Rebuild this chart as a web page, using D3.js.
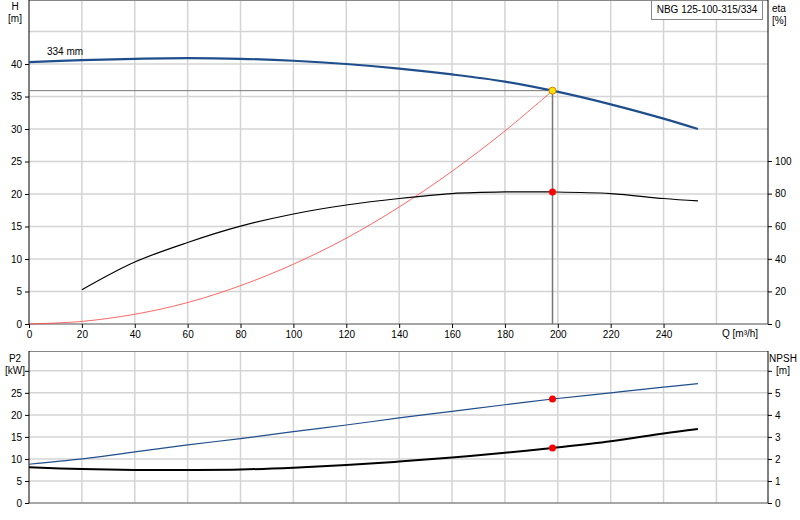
<!DOCTYPE html><html><head><meta charset="utf-8"><script src="https://cdn.jsdelivr.net/npm/d3@7"></script>
<style>body{margin:0;background:#fff}text{font-family:"Liberation Sans",Arial,sans-serif;font-size:10px;fill:#000}</style></head><body><svg id="c" width="800" height="520"></svg><script>
const qH=[0,20,40,60,80,100,120,140,160,180,198,220,240,253];
const hVals=[40.3,40.6,40.8,40.9,40.8,40.5,40,39.3,38.4,37.3,35.9,33.8,31.6,30];
const qEta=[20,40,60,80,100,120,140,160,180,198,220,240,253];
const etaVals=[21,38,50,60,67.5,73,77,80,81,81,80,77,75.5];
const qSys=[0,20,40,60,80,100,120,140,160,180,198];
const sysVals=[0,0.4,1.5,3.3,5.9,9.2,13.2,18,23.5,29.7,35.9];
const p2Vals=[8.8,10,11.6,13.2,14.6,16.2,17.7,19.3,20.8,22.3,23.6,25,26.3,27.1];
const npshVals=[1.62,1.54,1.5,1.5,1.52,1.6,1.72,1.88,2.06,2.28,2.5,2.8,3.16,3.36];
const qTicks=[0,20,40,60,80,100,120,140,160,180,200,220,240];
const duty={q:198,h:35.9,eta:81,p2:23.6,npsh:2.5};
const title="NBG 125-100-315/334";

const svg=d3.select("#c");
const L=29,R=768;
const x=d3.scaleLinear().domain([0,279.5]).range([L,R]);
const yH=d3.scaleLinear().domain([0,49.85]).range([324,0]);
const yE=d3.scaleLinear().domain([0,100]).range([324,161]);
const yP=d3.scaleLinear().domain([0,34.5]).range([503,351]);
const yN=d3.scaleLinear().domain([0,6.9]).range([503,351]);
const grid="#d4d4d4";
function panel(yS,top,bot,yt){
  const g=svg.append("g");
  [...qTicks,260].forEach(v=>{if(v>0)g.append("line").attr("x1",x(v)).attr("x2",x(v)).attr("y1",top).attr("y2",bot).attr("stroke",grid).attr("stroke-width",1.5);});
  yt.forEach(v=>{if(v>0)g.append("line").attr("x1",L).attr("x2",R).attr("y1",yS(v)).attr("y2",yS(v)).attr("stroke",grid).attr("stroke-width",1.5);});
  g.append("line").attr("x1",L).attr("x2",R).attr("y1",top+0.5).attr("y2",top+0.5).attr("stroke","#888");
  g.append("line").attr("x1",L).attr("x2",R).attr("y1",bot).attr("y2",bot).attr("stroke","#888").attr("stroke-width",1.5);
}
panel(yH,0,324,[5,10,15,20,25,30,35,40,45]);
panel(yP,351,503,[5,10,15,20,25,30]);
svg.append("g").attr("transform",`translate(${L},0)`).call(d3.axisLeft(yH).tickValues([0,5,10,15,20,25,30,35,40]).tickSize(4).tickSizeOuter(0)).call(a=>a.select(".domain").attr("d","M0,0V324"));
svg.append("g").attr("transform",`translate(${R},0)`).call(d3.axisRight(yE).tickValues([0,20,40,60,80,100]).tickSize(4).tickSizeOuter(0)).call(a=>a.select(".domain").attr("d","M0,0V324"));
svg.append("g").attr("transform","translate(0,324)").call(d3.axisBottom(x).tickValues(qTicks).tickSize(4).tickSizeOuter(0)).call(a=>a.select(".domain").remove());
svg.append("g").attr("transform",`translate(${L},0)`).call(d3.axisLeft(yP).tickValues([0,5,10,15,20,25,30]).tickFormat(d=>d==30?"":d).tickSize(4).tickSizeOuter(0)).call(a=>a.select(".domain").attr("d","M0,351V503"));
svg.append("g").attr("transform",`translate(${R},0)`).call(d3.axisRight(yN).tickValues([0,1,2,3,4,5,6]).tickFormat(d=>d==6?"":d).tickSize(4).tickSizeOuter(0)).call(a=>a.select(".domain").attr("d","M0,351V503"));
svg.selectAll(".tick text").style("font-size","10px").style("font-family","Liberation Sans, Arial, sans-serif");
const lab=(t,xx,yy,a)=>svg.append("text").attr("x",xx).attr("y",yy).attr("text-anchor",a||"start").text(t);
lab("H",15,10,"middle");lab("[m]",15,22,"middle");
lab("eta",772,12);lab("[%]",772,24);
lab("P2",15,362,"middle");lab("[kW]",15,374,"middle");
lab("NPSH",783,362,"middle");lab("[m]",783,374,"middle");
lab("Q [m³/h]",722,337);
lab("334 mm",47,55);
svg.append("rect").attr("x",651.5).attr("y",0.5).attr("width",111).attr("height",19).attr("fill","#fff").attr("stroke","#888");
lab(title,707,13,"middle");
svg.append("line").attr("x1",L).attr("x2",x(duty.q)).attr("y1",yH(duty.h)).attr("y2",yH(duty.h)).attr("stroke","#777");
svg.append("line").attr("x1",x(duty.q)).attr("x2",x(duty.q)).attr("y1",yH(duty.h)).attr("y2",324).attr("stroke","#777").attr("stroke-width",1.5);
const line=(xs,ys,ysc)=>d3.line().curve(d3.curveCatmullRom)(xs.map((q,i)=>[x(q),ysc(ys[i])]));
svg.append("path").attr("d",line(qSys,sysVals,yH)).attr("fill","none").attr("stroke","#ff4040").attr("stroke-width",0.8);
svg.append("path").attr("d",line(qEta,etaVals,yE)).attr("fill","none").attr("stroke","#000").attr("stroke-width",1.2);
svg.append("path").attr("d",line(qH,hVals,yH)).attr("fill","none").attr("stroke","#1f4e8c").attr("stroke-width",2.2);
svg.append("path").attr("d",line(qH,p2Vals,yP)).attr("fill","none").attr("stroke","#1f4e8c").attr("stroke-width",1.2);
svg.append("path").attr("d",line(qH,npshVals,yN)).attr("fill","none").attr("stroke","#000").attr("stroke-width",2);
const dot=(cy,f,s)=>svg.append("circle").attr("cx",x(duty.q)).attr("cy",cy).attr("r",3.5).attr("fill",f).attr("stroke",s||"none");
dot(yH(duty.h),"#ffe000","#e08000");dot(yE(duty.eta),"#f00");dot(yP(duty.p2),"#f00");dot(yN(duty.npsh),"#f00");
</script></body></html>
